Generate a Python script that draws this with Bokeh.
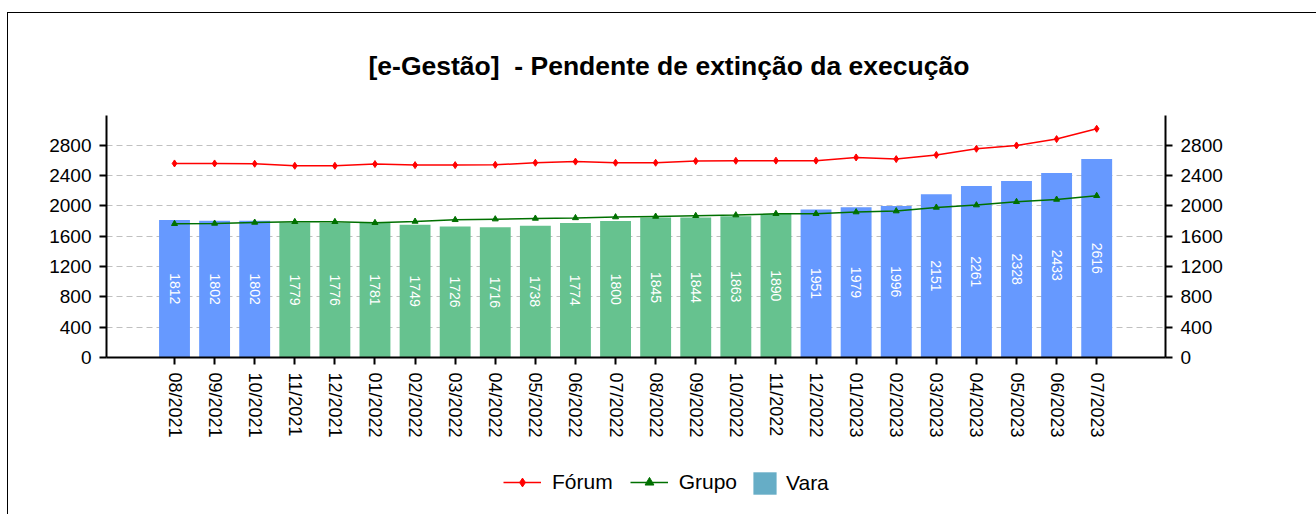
import math
from bokeh.plotting import figure
from bokeh.layouts import column
from bokeh.models import (ColumnDataSource, FixedTicker, LinearAxis, Range1d, Legend, LegendItem, Title)
from bokeh.core.properties import value
from bokeh.embed import file_html
from bokeh.resources import INLINE

months = ["08/2021", "09/2021", "10/2021", "11/2021", "12/2021", "01/2022", "02/2022", "03/2022",
          "04/2022", "05/2022", "06/2022", "07/2022", "08/2022", "09/2022", "10/2022", "11/2022",
          "12/2022", "01/2023", "02/2023", "03/2023", "04/2023", "05/2023", "06/2023", "07/2023"]
vara = [1812, 1802, 1802, 1779, 1776, 1781, 1749, 1726, 1716, 1738, 1774, 1800,
        1845, 1844, 1863, 1890, 1951, 1979, 1996, 2151, 2261, 2328, 2433, 2616]
forum = [2558, 2558, 2554, 2527, 2527, 2550, 2536, 2536, 2540, 2567, 2582, 2567,
         2567, 2589, 2593, 2595, 2595, 2637, 2615, 2670, 2751, 2795, 2879, 3015]
grupo = [1763, 1767, 1780, 1789, 1789, 1776, 1793, 1815, 1824, 1833, 1840, 1851,
         1859, 1868, 1877, 1895, 1895, 1917, 1930, 1978, 2009, 2053, 2083, 2132]
# bar colour group: 'b' blue, 'g' green
bar_group = ["b", "b", "b", "g", "g", "g", "g", "g", "g", "g", "g", "g",
             "g", "g", "g", "g", "b", "b", "b", "b", "b", "b", "b", "b"]
y_ticks = [0, 400, 800, 1200, 1600, 2000, 2400, 2800]

BLUE = "#6699FF"
GREEN = "#66C28F"
RED = "#FF0000"
DGREEN = "#007000"
FONT = "Liberation Sans"

xs = list(range(len(months)))
colors = [BLUE if g == "b" else GREEN for g in bar_group]
src = ColumnDataSource(dict(x=xs, vara=vara, half=[v / 2 for v in vara],
                            lab=[str(v) for v in vara], color=colors,
                            forum=forum, grupo=grupo))

p = figure(width=1308, height=449, output_backend="svg", toolbar_location=None,
           x_range=Range1d(-1.696, 24.716), y_range=Range1d(0, 3190),
           min_border_left=98, min_border_right=151, min_border_top=102, min_border_bottom=105)
p.outline_line_color = None

p.title = Title(text="[e-Gestão]\u00a0 - Pendente de extinção da execução", align="left", offset=262,
                standoff=70, text_font=FONT, text_font_size="26.5px", text_font_style="bold",
                text_color="black")

p.vbar(x="x", top="vara", width=0.77, source=src, fill_color="color", line_color=None)
p.text(x="x", y="half", text="lab", source=src, angle=-math.pi / 2, text_align="center",
       text_baseline="middle", text_color="white", text_font=value(FONT), text_font_size="14px")

p.line(x="x", y="forum", source=src, line_color=RED, line_width=1.5)
p.scatter(x="x", y="forum", source=src, marker="diamond", size=7, fill_color=RED, line_color=RED)
p.line(x="x", y="grupo", source=src, line_color=DGREEN, line_width=1.5)
p.scatter(x="x", y="grupo", source=src, marker="triangle", size=6, fill_color=DGREEN, line_color=DGREEN)

p.xgrid.visible = False
p.ygrid.ticker = FixedTicker(ticks=y_ticks)
p.ygrid.grid_line_color = "#C0C0C0"
p.ygrid.grid_line_dash = "6 4"
p.ygrid.grid_line_width = 1

xa = p.xaxis[0]
xa.ticker = FixedTicker(ticks=xs)
xa.major_label_overrides = {i: m for i, m in enumerate(months)}
xa.major_label_orientation = -math.pi / 2

ya = p.yaxis[0]
ya.ticker = FixedTicker(ticks=y_ticks)
ya2 = LinearAxis(ticker=FixedTicker(ticks=y_ticks))
p.add_layout(ya2, "right")

for ax in [xa, ya, ya2]:
    ax.axis_line_width = 2
    ax.axis_line_color = "black"
    ax.major_tick_line_width = 2
    ax.major_tick_line_color = "black"
    ax.major_tick_out = 7
    ax.major_tick_in = 0
    ax.minor_tick_line_color = None
    ax.major_label_text_font = FONT
    ax.major_label_text_font_size = "18px"
    ax.major_label_text_color = "black"
    ax.major_label_standoff = 8
ya.major_label_text_font_size = "19px"
ya2.major_label_text_font_size = "19px"

# legend strip below the chart
p2 = figure(width=1308, height=52, output_backend="svg", toolbar_location=None,
            x_range=Range1d(0, 1), y_range=Range1d(0, 1), min_border=0,
            x_axis_location=None, y_axis_location=None)
p2.outline_line_color = None
p2.xgrid.visible = False
p2.ygrid.visible = False
fl = p2.line(x=[-10, -9], y=[-10, -10], line_color=RED, line_width=1.5)
fs = p2.scatter(x=[-10], y=[-10], marker="diamond", size=7, fill_color=RED, line_color=RED)
gl = p2.line(x=[-10, -9], y=[-10, -10], line_color=DGREEN, line_width=1.5)
gs = p2.scatter(x=[-10], y=[-10], marker="triangle", size=6, fill_color=DGREEN, line_color=DGREEN)
vq = p2.quad(left=[-10], right=[-9], bottom=[-10], top=[-9], fill_color="#66ADC6", line_color=None)

leg1 = Legend(items=[LegendItem(label="Fórum", renderers=[fl, fs]),
                     LegendItem(label="Grupo", renderers=[gl, gs])],
              orientation="horizontal", location=(397, 20), glyph_width=38, glyph_height=22,
              label_height=22, label_standoff=11, spacing=17, padding=0, margin=0,
              border_line_alpha=0, background_fill_alpha=0, label_text_color="black",
              label_text_font=FONT, label_text_font_size="21px")
leg2 = Legend(items=[LegendItem(label="Vara", renderers=[vq])],
              orientation="horizontal", location=(644, 17), glyph_width=29, glyph_height=28,
              label_height=28, label_standoff=7, padding=0, margin=0,
              border_line_alpha=0, background_fill_alpha=0, label_text_color="black",
              label_text_font=FONT, label_text_font_size="21px")
p2.add_layout(leg1, "center")
p2.add_layout(leg2, "center")

layout = column(p, p2, spacing=0)
layout.styles = {"margin-left": "7px", "margin-top": "12px",
                 "border-left": "1px solid black", "border-top": "1px solid black"}

open("out.html", "w").write(file_html(layout, INLINE))
